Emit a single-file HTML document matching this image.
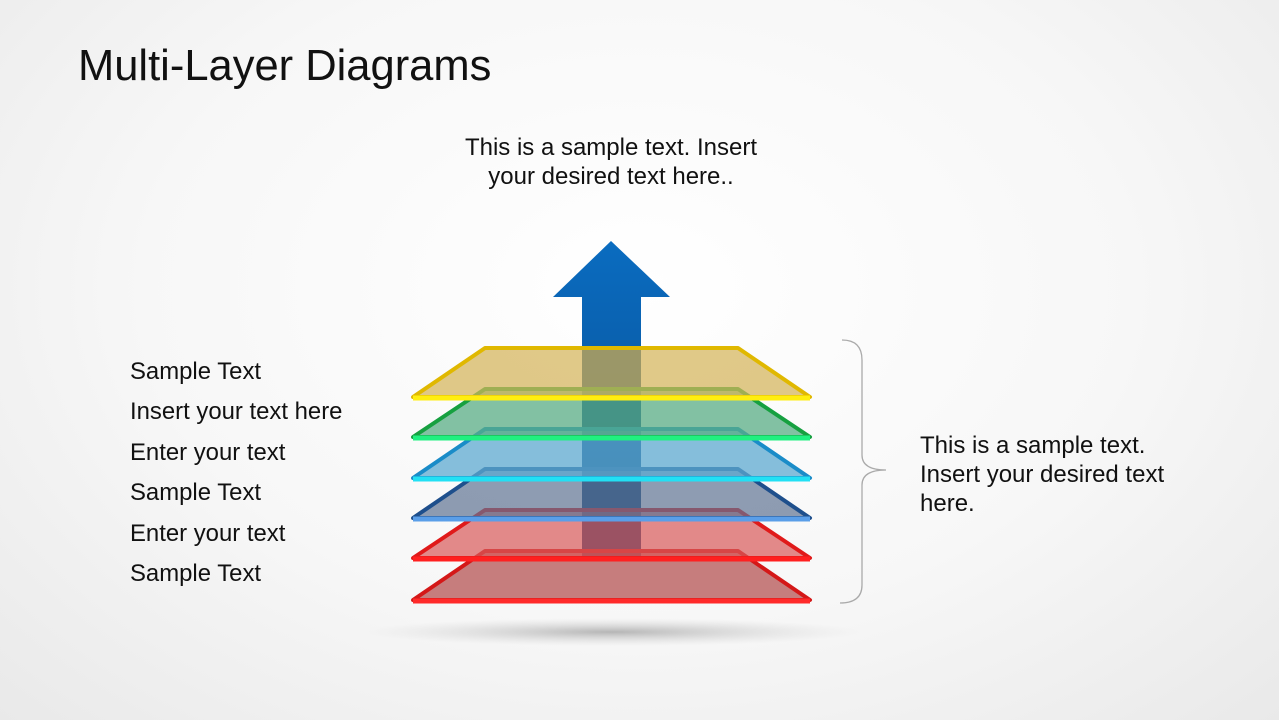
<!DOCTYPE html>
<html><head><style>
body{margin:0;width:1279px;height:720px;overflow:hidden;background:radial-gradient(ellipse at 50% 40%,#ffffff 0%,#f7f7f7 55%,#e9e9e9 100%);font-family:"Liberation Sans",sans-serif;position:relative;color:#111}
.t{position:absolute;white-space:nowrap}
</style></head><body>
<div class="t" style="left:78px;top:42px;font-size:43.5px;color:#111">Multi-Layer Diagrams</div>
<div class="t" style="left:361px;top:133px;width:500px;text-align:center;font-size:24px;line-height:29px">This is a sample text. Insert<br>your desired text here..</div>
<div class="t" style="left:130px;top:352px;font-size:23.9px;line-height:40.4px">Sample Text<br>Insert your text here<br>Enter your text<br>Sample Text<br>Enter your text<br>Sample Text</div>
<div class="t" style="left:920px;top:431px;font-size:24px;line-height:29px">This is a sample text.<br>Insert your desired text<br>here.</div>
<svg width="1279" height="720" style="position:absolute;left:0;top:0">
<defs>
<radialGradient id="sh" cx="50%" cy="50%" r="50%"><stop offset="0" stop-color="#999" stop-opacity=".7"/><stop offset="1" stop-color="#ccc" stop-opacity="0"/></radialGradient>
<linearGradient id="ar" x1="0" y1="0" x2="0" y2="1"><stop offset="0" stop-color="#0a6cc0"/><stop offset="1" stop-color="#0b4a8c"/></linearGradient>
</defs>
<ellipse cx="612" cy="632" rx="250" ry="14" fill="url(#sh)"/>
<path d="M842 340 Q862 340 862 360 L862 455 Q862 470 886 470 Q862 470 862 485 L862 585 Q862 603 840 603" fill="none" stroke="#aaa" stroke-width="1.3"/>
<polygon points="611,241 670,297 641,297 641,560 582,560 582,297 553,297" fill="url(#ar)"/>
<rect x="582" y="348" width="59" height="210" fill="#0a2a50" fill-opacity=".35"/>
<g>
<g><polygon points="485,551 738,551 810,600 413,600" fill="#b04848" fill-opacity=".7"/><path d="M413,600 L485,551 L738,551 L810,600 Z" fill="none" stroke="#d41818" stroke-width="4" stroke-linejoin="round"/><line x1="413" y1="601" x2="810" y2="601" stroke="#ff2a2a" stroke-width="5"/></g>
<g><polygon points="485,510 738,510 810,558 413,558" fill="#d85a5a" fill-opacity=".7"/><path d="M413,558 L485,510 L738,510 L810,558 Z" fill="none" stroke="#e01a1a" stroke-width="4" stroke-linejoin="round"/><line x1="413" y1="559" x2="810" y2="559" stroke="#ff2020" stroke-width="5"/></g>
<g><polygon points="485,469 738,469 810,518 413,518" fill="#5f7393" fill-opacity=".7"/><path d="M413,518 L485,469 L738,469 L810,518 Z" fill="none" stroke="#1e4f8c" stroke-width="4" stroke-linejoin="round"/><line x1="413" y1="519" x2="810" y2="519" stroke="#5a9ee8" stroke-width="5"/></g>
<g><polygon points="485,429 738,429 810,478 413,478" fill="#5eaad0" fill-opacity=".75"/><path d="M413,478 L485,429 L738,429 L810,478 Z" fill="none" stroke="#1a8cc8" stroke-width="4" stroke-linejoin="round"/><line x1="413" y1="479" x2="810" y2="479" stroke="#22e0f4" stroke-width="5"/></g>
<g><polygon points="485,389 738,389 810,437 413,437" fill="#5aae86" fill-opacity=".75"/><path d="M413,437 L485,389 L738,389 L810,437 Z" fill="none" stroke="#16a040" stroke-width="4" stroke-linejoin="round"/><line x1="413" y1="438" x2="810" y2="438" stroke="#20f080" stroke-width="5"/></g>
<g><polygon points="485,348 738,348 810,397 413,397" fill="#d4b45a" fill-opacity=".72"/><path d="M413,397 L485,348 L738,348 L810,397 Z" fill="none" stroke="#e0b800" stroke-width="4" stroke-linejoin="round"/><line x1="413" y1="398" x2="810" y2="398" stroke="#ffee10" stroke-width="5"/></g>
</g>
</svg>
</body></html>
